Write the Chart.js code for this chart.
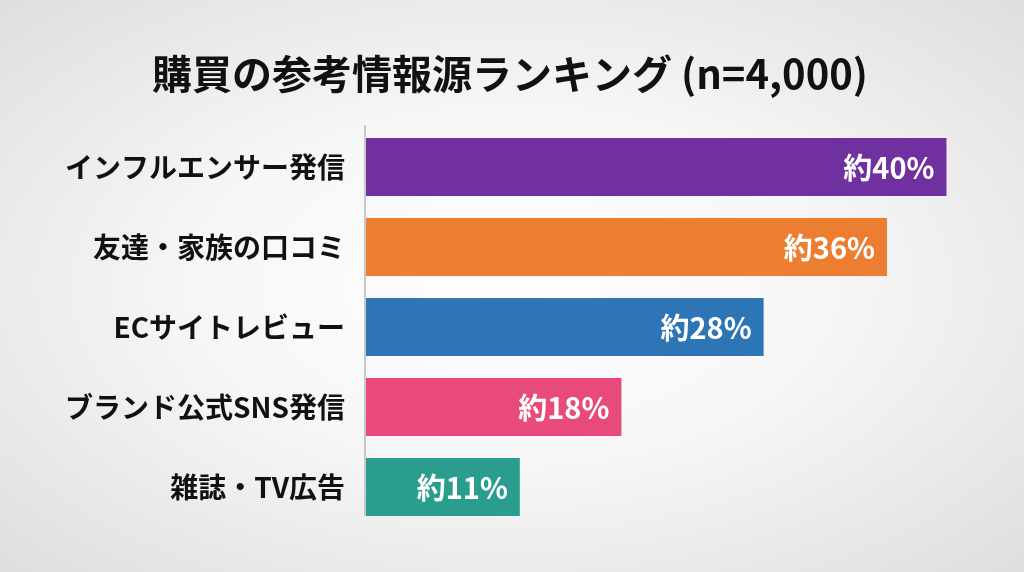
<!DOCTYPE html>
<html lang="ja">
<head>
<meta charset="utf-8">
<title>購買の参考情報源ランキング</title>
<script src="https://cdn.jsdelivr.net/npm/chart.js@4/dist/chart.umd.min.js"></script>
<style>
  html, body {
    margin: 0;
    padding: 0;
    width: 1024px;
    height: 572px;
    overflow: hidden;
  }
  body {
    background: radial-gradient(ellipse at 50% 50%, #ffffff 0%, #f6f6f6 45%, #dedede 100%);
  }
  #wrap {
    position: relative;
    width: 1024px;
    height: 572px;
  }
</style>
</head>
<body>
<div id="wrap"><canvas id="rankChart"></canvas></div>
<script>
const categories = ['インフルエンサー発信', '友達・家族の口コミ', 'ECサイトレビュー', 'ブランド公式SNS発信', '雑誌・TV広告'];
const shares = [40, 35.9, 27.4, 17.6, 10.6];
const valueLabels = ['約40%', '約36%', '約28%', '約18%', '約11%'];
const barColors = ['#70309f', '#ed7d31', '#2e75b6', '#e84a7a', '#2a9d8f'];

const FONT = '"Noto Sans CJK JP", "Noto Sans", sans-serif';

// Vertical axis line, from just above the first bar to the bottom of the last one
const axisLinePlugin = {
  id: 'axisLine',
  beforeDatasetsDraw(chart) {
    const ctx = chart.ctx;
    const area = chart.chartArea;
    const bars = chart.getDatasetMeta(0).data;
    const last = bars[bars.length - 1];
    ctx.save();
    ctx.strokeStyle = '#c8c8c8';
    ctx.lineWidth = 2;
    ctx.beginPath();
    ctx.moveTo(area.left - 1, area.top - 2);
    ctx.lineTo(area.left - 1, last.y + last.height / 2);
    ctx.stroke();
    ctx.restore();
  }
};

// Draw the "約xx%" text inside the end of each bar
const barValuePlugin = {
  id: 'barValue',
  afterDatasetsDraw(chart) {
    const ctx = chart.ctx;
    const meta = chart.getDatasetMeta(0);
    ctx.save();
    ctx.font = 'bold 29px ' + FONT;
    ctx.fillStyle = '#ffffff';
    ctx.textAlign = 'right';
    ctx.textBaseline = 'middle';
    meta.data.forEach((bar, i) => {
      ctx.fillText(valueLabels[i], bar.x - 12, bar.y + 1);
    });
    ctx.restore();
  }
};

document.addEventListener('DOMContentLoaded', () => {
  const ctx = document.getElementById('rankChart').getContext('2d');

  new Chart(ctx, {
    type: 'bar',
    data: {
      labels: categories,
      datasets: [{
        data: shares,
        backgroundColor: barColors,
        borderWidth: 0,
        barPercentage: 0.725,
        categoryPercentage: 1.0
      }]
    },
    options: {
      indexAxis: 'y',
      responsive: true,
      maintainAspectRatio: false,
      animation: false,
      layout: {
        padding: { left: 30, right: 34, top: 0, bottom: 45 }
      },
      plugins: {
        legend: { display: false },
        tooltip: { enabled: false },
        title: {
          display: true,
          text: '購買の参考情報源ランキング (n=4,000)',
          color: '#111111',
          font: { family: FONT, size: 40, weight: 'bold' },
          padding: { top: 50, bottom: 29 }
        }
      },
      scales: {
        x: {
          display: false,
          min: 0,
          max: 43
        },
        y: {
          afterFit(scale) {
            scale.width = 336;
          },
          grid: { display: false },
          border: { display: false },
          ticks: {
            color: '#111111',
            padding: 13,
            font: { family: FONT, size: 28, weight: 'bold' }
          }
        }
      }
    },
    plugins: [axisLinePlugin, barValuePlugin]
  });
});
</script>
</body>
</html>
